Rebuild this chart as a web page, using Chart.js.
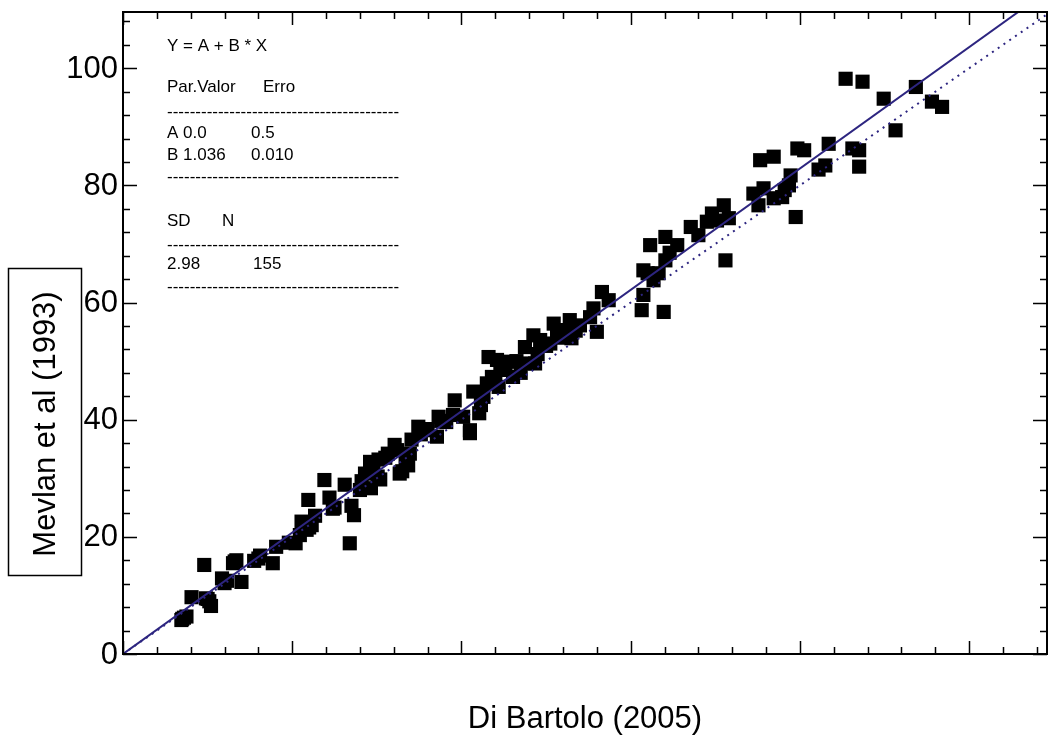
<!DOCTYPE html>
<html>
<head>
<meta charset="utf-8">
<title>Mevlan vs Di Bartolo</title>
<script src="https://cdn.jsdelivr.net/npm/chart.js@4.4.1/dist/chart.umd.min.js"></script>
<style>
  html, body { margin: 0; padding: 0; background: #fff; }
  #wrap { width: 1048px; height: 737px; position: relative; }
</style>
</head>
<body>
<div id="wrap"><canvas id="chart1" width="1048" height="737"></canvas></div>
<script>
// Di Bartolo (2005) values
const diBartolo = [
  6.9, 7.2, 7.5, 8.1, 9.6, 9.8, 10.2, 10.4, 11.7, 12.0,
  13.2, 13.4, 14.0, 15.5, 16.2, 17.7, 18.1, 20.4, 20.9, 21.1,
  21.7, 22.3, 21.9, 22.7, 23.8, 24.4, 24.8, 26.2, 26.8, 27.0,
  27.3, 28.0, 28.6, 29.3, 29.2, 30.2, 30.1, 30.4, 31.3, 32.1,
  32.7, 33.0, 33.7, 33.9, 34.1, 34.9, 35.5, 37.1, 37.3, 38.2,
  39.2, 40.2, 41.0, 41.0, 41.4, 42.1, 42.6, 43.2, 44.2, 43.6,
  44.4, 44.6, 45.7, 46.1, 47.5, 47.7, 48.5, 48.7, 49.3, 50.5,
  50.9, 51.3, 52.0, 53.0, 52.8, 54.0, 55.6, 56.0, 56.6, 57.4,
  61.3, 61.5, 63.9, 61.5, 62.3, 62.7, 63.3, 64.1, 64.1, 65.5,
  67.1, 68.0, 69.0, 69.6, 71.2, 71.0, 71.6, 74.5, 75.1, 75.7,
  75.3, 76.9, 76.9, 77.9, 78.9, 78.7, 79.5, 79.7, 80.5, 82.2,
  83.0, 83.4, 85.4, 87.4, 86.2, 87.0, 87.0, 89.9, 91.3, 93.7,
  95.6, 96.8,
  7.0, 10.0, 12.3, 13.0, 16.0, 19.6, 21.4, 22.0, 25.0, 28.2,
  29.6, 31.0, 32.4, 33.4, 35.2, 36.0, 37.6, 39.0, 42.3, 43.0,
  44.0, 45.2, 46.5, 47.0, 49.0, 50.0, 51.6, 53.5, 55.2, 62.0,
  64.6, 70.2, 78.2
];

// Mevlan et al (1993) values, same order
const mevlan = [
  5.8, 6.2, 6.4, 9.7, 15.2, 9.5, 9.0, 8.2, 12.9, 12.1,
  15.8, 16.0, 12.3, 15.9, 16.8, 15.5, 18.3, 18.9, 20.3, 22.6,
  21.2, 22.0, 26.3, 23.6, 29.7, 26.7, 24.8, 28.9, 18.9, 25.3,
  23.7, 28.0, 30.8, 28.3, 32.8, 33.2, 30.3, 29.8, 34.2, 35.7,
  30.8, 31.2, 32.2, 34.2, 36.6, 38.8, 38.2, 37.1, 40.5, 39.6,
  43.3, 40.5, 38.2, 37.7, 44.8, 41.1, 43.9, 50.7, 50.2, 47.3,
  45.6, 48.5, 49.9, 47.3, 52.4, 49.6, 54.4, 49.6, 53.6, 53.0,
  56.4, 54.7, 55.3, 53.9, 57.0, 56.1, 59.0, 55.0, 61.8, 60.4,
  58.7, 61.3, 58.4, 65.5, 69.8, 63.8, 65.0, 67.2, 71.2, 69.8,
  72.9, 71.5, 73.8, 75.2, 67.2, 76.6, 74.4, 78.6, 76.6, 79.5,
  84.3, 84.9, 77.8, 78.0, 81.7, 80.0, 74.6, 86.3, 86.0, 82.7,
  83.4, 87.1, 98.2, 97.7, 86.3, 86.0, 83.2, 94.8, 89.4, 96.8,
  94.3, 93.4,
  6.0, 9.4, 12.5, 15.5, 16.3, 19.0, 22.0, 21.6, 25.0, 29.5,
  31.5, 33.5, 34.8, 33.0, 37.5, 38.4, 39.8, 40.8, 42.5, 46.2,
  46.4, 48.8, 50.0, 48.0, 51.2, 52.6, 54.0, 55.2, 57.5, 65.0,
  68.5, 74.0, 79.2
];

// fit parameters shown in the box
const fitA = 0.0;
const fitB = 1.036;
const yTickLabels = [0, 20, 40, 60, 80, 100];

const xMax = 109.2;
const yMax = 109.6;
const lineColor = "#2d2580";

const points = diBartolo.map((x, i) => ({ x: x, y: mevlan[i] }));
const fitLine = [{ x: 0, y: fitA }, { x: xMax + 5, y: fitA + fitB * (xMax + 5) }];
const oneToOne = [{ x: 0, y: 0 }, { x: xMax + 5, y: xMax + 5 }];

// frame, inward ticks, labels and the fit text box
const decorPlugin = {
  id: "decor",
  afterDraw(chart) {
    const ctx = chart.ctx;
    const area = chart.chartArea;
    const xs = chart.scales.x;
    const ys = chart.scales.y;
    ctx.save();

    ctx.strokeStyle = "#000";
    ctx.lineWidth = 1.5;
    xs.ticks.forEach(t => {
      const px = Math.round(xs.getPixelForValue(t.value)) + 0.5;
      const len = t.value % 20 === 0 ? 13 : 7;
      ctx.beginPath();
      ctx.moveTo(px, area.bottom); ctx.lineTo(px, area.bottom - len);
      ctx.moveTo(px, area.top); ctx.lineTo(px, area.top + len);
      ctx.stroke();
    });
    ys.ticks.forEach(t => {
      const py = Math.round(ys.getPixelForValue(t.value)) + 0.5;
      const len = t.value % 20 === 0 ? 14 : 7;
      ctx.beginPath();
      ctx.moveTo(area.left, py); ctx.lineTo(area.left + len, py);
      ctx.moveTo(area.right, py); ctx.lineTo(area.right - len, py);
      ctx.stroke();
    });

    ctx.lineWidth = 2;
    ctx.strokeRect(area.left, area.top, area.right - area.left, area.bottom - area.top);

    // y tick labels
    ctx.fillStyle = "#000";
    ctx.font = "31px 'Liberation Sans', Arial, sans-serif";
    ctx.textAlign = "right";
    ctx.textBaseline = "middle";
    yTickLabels.forEach(v => {
      ctx.fillText(String(v), area.left - 5, ys.getPixelForValue(v) + 1);
    });

    // x title
    ctx.textAlign = "center";
    ctx.fillText("Di Bartolo (2005)", (area.left + area.right) / 2, 719);

    // y title in a box
    ctx.lineWidth = 1.5;
    ctx.strokeRect(8.5, 268.5, 73, 307);
    ctx.save();
    ctx.translate(46, 424);
    ctx.rotate(-Math.PI / 2);
    ctx.fillText("Mevlan et al (1993)", 0, 0);
    ctx.restore();

    // fit summary
    ctx.font = "17px 'Liberation Sans', Arial, sans-serif";
    ctx.textAlign = "left";
    const dashes = "-".repeat(41);
    const x0 = 167;
    const x1 = 251;
    ctx.fillText("Y = A + B * X", x0, 46);
    ctx.fillText("Par.Valor", x0, 87);
    ctx.fillText("Erro", 263, 87);
    ctx.fillText(dashes, x0, 112, 236);
    ctx.fillText("A " + fitA.toFixed(1), x0, 133);
    ctx.fillText("0.5", x1, 133);
    ctx.fillText("B " + fitB.toFixed(3), x0, 155);
    ctx.fillText("0.010", x1, 155);
    ctx.fillText(dashes, x0, 177, 236);
    ctx.fillText("SD", x0, 221);
    ctx.fillText("N", 222, 221);
    ctx.fillText(dashes, x0, 245, 236);
    ctx.fillText("2.98", x0, 264);
    ctx.fillText(String(diBartolo.length), 253, 264);
    ctx.fillText(dashes, x0, 287, 236);

    ctx.restore();
  }
};

new Chart(document.getElementById("chart1").getContext("2d"), {
  type: "scatter",
  data: {
    datasets: [
      {
        data: points,
        pointStyle: "rect",
        pointRadius: 10,
        pointHoverRadius: 10,
        backgroundColor: "#000",
        borderColor: "#000",
        borderWidth: 0,
        order: 2
      },
      {
        type: "line",
        data: fitLine,
        borderColor: lineColor,
        borderWidth: 2,
        pointRadius: 0,
        pointHoverRadius: 0,
        pointStyle: false,
        fill: false,
        order: 1
      },
      {
        type: "line",
        data: oneToOne,
        borderColor: lineColor,
        borderWidth: 2,
        borderDash: [2, 5],
        pointRadius: 0,
        pointHoverRadius: 0,
        pointStyle: false,
        fill: false,
        order: 1
      }
    ]
  },
  options: {
    responsive: false,
    animation: false,
    devicePixelRatio: 1,
    layout: { autoPadding: false, padding: { left: 123, right: 1, top: 12, bottom: 83 } },
    scales: {
      x: {
        type: "linear",
        display: false,
        min: 0,
        max: xMax,
        ticks: { stepSize: 2, includeBounds: false }
      },
      y: {
        type: "linear",
        display: false,
        min: 0,
        max: yMax,
        ticks: { stepSize: 2, includeBounds: false }
      }
    },
    plugins: {
      legend: { display: false },
      tooltip: { enabled: false }
    }
  },
  plugins: [decorPlugin]
});
</script>
</body>
</html>
